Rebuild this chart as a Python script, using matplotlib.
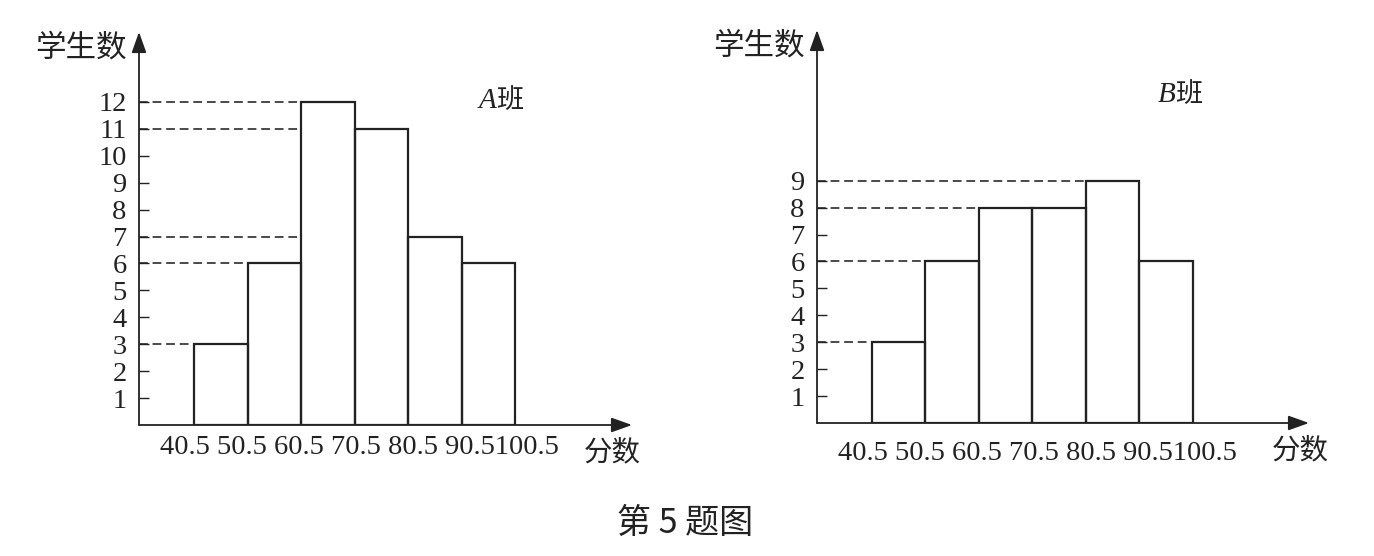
import matplotlib.pyplot as plt

# score bins (class edges) shared by both classes
edges = [40.5, 50.5, 60.5, 70.5, 80.5, 90.5, 100.5]

# number of students per bin
counts_a = [3, 6, 12, 11, 7, 6]
counts_b = [3, 6, 8, 8, 9, 6]

class_names = ['A', 'B']
class_char = '班'
ylabel = '学生数'
xlabel = '分数'
title = '第 5 题图'

SERIF = 'Liberation Serif'
CJK = ['Noto Sans CJK SC', 'DejaVu Sans']
INK = '#222222'

# layout per panel, in figure pixels (axes box) and data units (texts)
W, H = 1374, 556
panels = [
    dict(counts=counts_a, box=(139, 425, 493, 393), name_xy=(93.6, 12.05),
         xlab_x=113.2, tick_dy=10),
    dict(counts=counts_b, box=(817, 423, 492, 393), name_xy=(93.9, 12.2),
         xlab_x=115.4, tick_dy=18),
]

fig = plt.figure(figsize=(W / 100, H / 100), dpi=100)
fig.patch.set_facecolor('white')

for name, p in zip(class_names, panels):
    left, base, w, h = p['box']
    ax = fig.add_axes([left / W, 1 - base / H, w / W, h / H])
    ax.set_xlim(30.2, 122.3)
    ax.set_ylim(0, 14.6)
    for s in ax.spines.values():
        s.set_visible(False)

    counts = p['counts']

    # bars
    ax.bar(edges[:-1], counts, width=[b - a for a, b in zip(edges[:-1], edges[1:])],
           align='edge', fill=False, edgecolor=INK, linewidth=1.6, zorder=3)

    # dashed guide lines from the y-axis to the first bar that reaches the level
    x0 = ax.get_xlim()[0]
    for level in sorted(set(counts)):
        i = next(k for k, c in enumerate(counts) if c >= level)
        ax.plot([x0, edges[i]], [level, level], color=INK, lw=1.15,
                linestyle=(0, (5.5, 3)), zorder=2)

    # axes with arrows
    ax.annotate('', xy=(1, 0), xytext=(0, 0), xycoords='axes fraction',
                arrowprops=dict(arrowstyle='-|>,head_length=0.7,head_width=0.25',
                                color=INK, lw=1.3, shrinkA=0, shrinkB=0,
                                mutation_scale=18))
    ax.annotate('', xy=(0, 1), xytext=(0, 0), xycoords='axes fraction',
                arrowprops=dict(arrowstyle='-|>,head_length=0.7,head_width=0.25',
                                color=INK, lw=1.3, shrinkA=0, shrinkB=0,
                                mutation_scale=18))

    # y ticks
    ax.set_yticks(range(1, max(counts) + 1))
    ax.set_yticklabels([str(v) for v in range(1, max(counts) + 1)],
                       fontfamily=SERIF, fontsize=20.5)
    ax.tick_params(axis='y', direction='in', length=7, width=1.0,
                   color=INK, pad=9, labelcolor=INK)
    ax.set_xticks([])

    # x labels typeset as one line, like the original
    xt = ' '.join(f'{e:g}' for e in edges[:-1]) + f'{edges[-1]:g}'
    ax.annotate(xt, xy=(edges[0], 0), xycoords='data',
                xytext=(-34 * 0.72, -p['tick_dy'] * 0.72), textcoords='offset points',
                ha='left', va='top', fontfamily=SERIF, fontsize=20.5, color=INK)

    # axis names
    ax.text(-12 / w, 1 - 16 / h, ylabel, transform=ax.transAxes, ha='right',
            va='center', family=CJK, fontsize=22, color=INK)
    ax.annotate(xlabel, xy=(p['xlab_x'], 0), xycoords='data',
                xytext=(0, -27 * 0.72), textcoords='offset points',
                ha='left', va='center', family=CJK, fontsize=20.5, color=INK)

    # class name: italic latin letter followed by the CJK character
    t = ax.text(p['name_xy'][0], p['name_xy'][1], name, fontfamily=SERIF,
                style='italic', fontsize=21, ha='left', va='center', color=INK)
    ax.annotate(class_char, xy=(1, 0.5), xycoords=t, ha='left', va='center',
                family=CJK, fontsize=19.5, color=INK)

fig.text(685 / W, 1 - 523 / H, title, ha='center', va='center',
         family=CJK, fontsize=24.5, color=INK)

fig.savefig('out.png', dpi=100, facecolor='white')
